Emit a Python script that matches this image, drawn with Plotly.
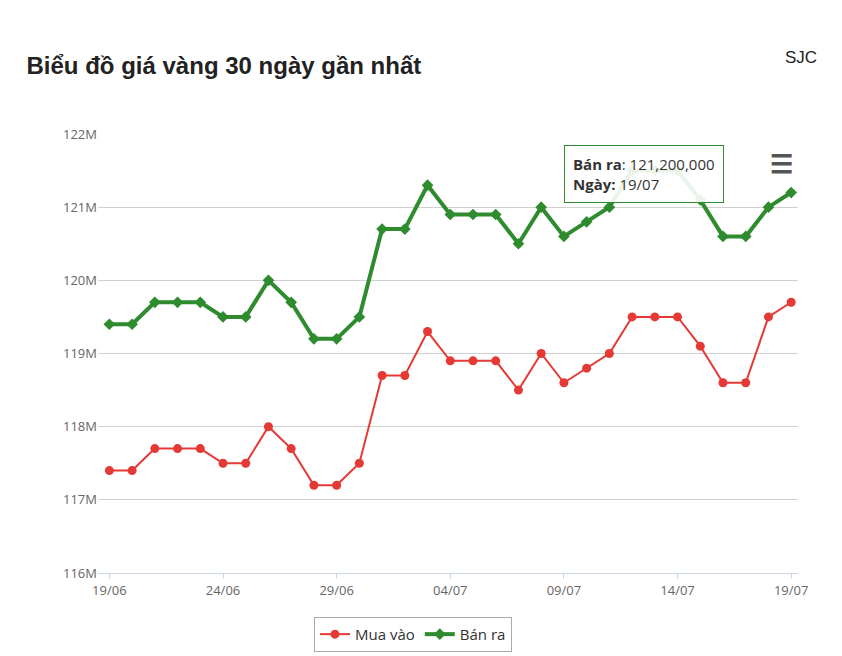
import plotly.graph_objects as go

dates = ["19/06","20/06","21/06","22/06","23/06","24/06","25/06","26/06","27/06","28/06","29/06","30/06",
         "01/07","02/07","03/07","04/07","05/07","06/07","07/07","08/07","09/07","10/07","11/07","12/07",
         "13/07","14/07","15/07","16/07","17/07","18/07","19/07"]
mua_vao = [117.4,117.4,117.7,117.7,117.7,117.5,117.5,118.0,117.7,117.2,117.2,117.5,118.7,118.7,119.3,118.9,
           118.9,118.9,118.5,119.0,118.6,118.8,119.0,119.5,119.5,119.5,119.1,118.6,118.6,119.5,119.7]
ban_ra = [119.4,119.4,119.7,119.7,119.7,119.5,119.5,120.0,119.7,119.2,119.2,119.5,120.7,120.7,121.3,120.9,
          120.9,120.9,120.5,121.0,120.6,120.8,121.0,121.5,121.5,121.5,121.1,120.6,120.6,121.0,121.2]
tick_dates = ["19/06","24/06","29/06","04/07","09/07","14/07","19/07"]
y_ticks = [116,117,118,119,120,121,122]

fig = go.Figure()
fig.add_trace(go.Scatter(x=dates, y=[v*1e6 for v in mua_vao], name="Mua vào", mode="lines+markers",
                         line=dict(color="#e53935", width=2), marker=dict(size=9, color="#e53935")))
fig.add_trace(go.Scatter(x=dates, y=[v*1e6 for v in ban_ra], name="Bán ra", mode="lines+markers",
                         line=dict(color="#2e8b2e", width=4), marker=dict(size=9, color="#2e8b2e", symbol="diamond")))

fig.update_layout(
    width=842, height=656, plot_bgcolor="white", paper_bgcolor="white",
    margin=dict(l=90, r=52, t=126, b=88),
    font=dict(family="Open Sans, Arial", color="#555"),
    title=dict(text="<b>Biểu đồ giá vàng 30 ngày gần nhất</b>", x=0.022, y=0.925, xanchor="left",
               font=dict(size=24, color="#222", family="Arial")),
    showlegend=True,
    legend=dict(orientation="h", x=0.45, y=-0.1, xanchor="center", yanchor="top",
                bordercolor="#aaa", borderwidth=1, font=dict(size=15, color="#333")),
    hovermode=False,
)
fig.update_xaxes(type="category", tickvals=tick_dates, ticktext=tick_dates, showgrid=False,
                 showline=True, linecolor="#ccd6eb", ticks="outside", tickcolor="#ccd6eb",
                 tickfont=dict(size=13, color="#666"), range=[-0.5, 30.3])
fig.update_yaxes(range=[116e6, 122e6], tickvals=[v*1e6 for v in y_ticks],
                 ticktext=[f"{v}M" for v in y_ticks], gridcolor="#d0d0d0",
                 tickfont=dict(size=13, color="#666"), zeroline=False)

fig.add_annotation(text="SJC", xref="paper", yref="paper", x=1.03, y=1.2, showarrow=False,
                   font=dict(size=17, color="#222", family="Arial"))
fig.add_annotation(text="<b>Bán ra</b>: 121,200,000<br><b>Ngày:</b> 19/07", xref="x", yref="y",
                   x=20.0, y=121.85e6, xanchor="left", yanchor="top", showarrow=False, align="left",
                   bgcolor="rgba(255,255,255,0.9)", bordercolor="#2e8b2e", borderwidth=1, borderpad=8,
                   font=dict(size=15, color="#333"))
fig.add_annotation(text="<b>☰</b>", xref="paper", yref="paper", x=0.995, y=0.98, showarrow=False,
                   font=dict(size=26, color="#555"))

fig.write_html("out.html")
